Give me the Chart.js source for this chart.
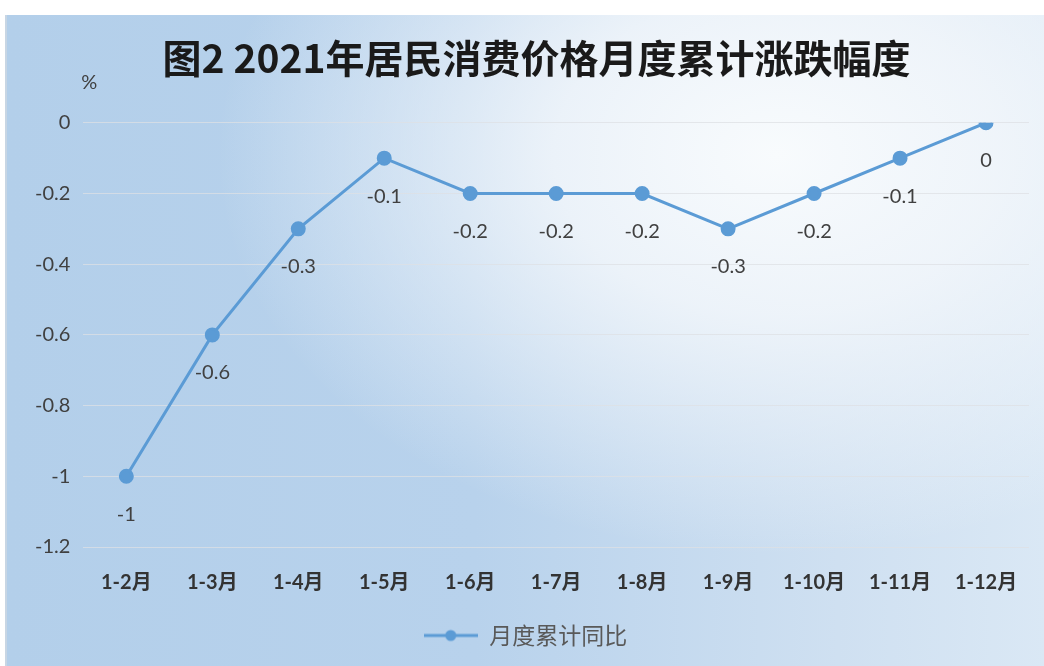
<!DOCTYPE html>
<html>
<head>
<meta charset="utf-8">
<script src="https://cdn.jsdelivr.net/npm/chart.js@4"></script>
<style>
  html, body { margin: 0; padding: 0; background: #fff; }
  #frame {
    position: absolute; left: 5px; top: 15px; width: 1039px; height: 651px;
    background:
      radial-gradient(ellipse 560px 400px at 770px 140px, rgba(248,251,253,1) 0%, rgba(243,247,251,0.85) 40%, rgba(243,247,251,0) 100%),
      linear-gradient(90deg, #b3cfea 0%, #b8d2ec 45%, #cfe0f1 80%, #dae8f5 100%);
    border-left: 2px solid #c8d6e4;
  }
  #chart { display: block; }
</style>
</head>
<body>
<div id="frame"><canvas id="chart" width="1039" height="651"></canvas></div>
<script>
var months = ['1-2月', '1-3月', '1-4月', '1-5月', '1-6月', '1-7月', '1-8月', '1-9月', '1-10月', '1-11月', '1-12月'];
var cumulative = [-1, -0.6, -0.3, -0.1, -0.2, -0.2, -0.2, -0.3, -0.2, -0.1, 0];
var seriesName = '月度累计同比';
var chartTitle = '图2 2021年居民消费价格月度累计涨跌幅度';
var unitLabel = '%';

var lineColor = '#5b9bd5';
var titleFont = 'bold 39px "Noto Sans CJK SC"';

// legend marker: line with a dot in the middle, like excel
var marker = document.createElement('canvas');
marker.width = 54; marker.height = 14;
var mctx = marker.getContext('2d');
mctx.strokeStyle = lineColor; mctx.lineWidth = 3;
mctx.beginPath(); mctx.moveTo(0, 7); mctx.lineTo(54, 7); mctx.stroke();
mctx.fillStyle = lineColor;
mctx.beginPath(); mctx.arc(27, 7, 5.5, 0, Math.PI * 2); mctx.fill();

var pointLabels = {
    id: 'pointLabels',
    afterDatasetsDraw(chart) {
        var ctx = chart.ctx;
        var meta = chart.getDatasetMeta(0);
        var title = chart.titleBlock;
        ctx.save();
        // title sits a little right of the canvas centre in the original
        ctx.font = titleFont;
        ctx.fillStyle = '#1a1a1a';
        ctx.textAlign = 'center';
        ctx.textBaseline = 'middle';
        ctx.fillText(chartTitle, chart.width / 2 + 10, title.top + 20 + 23);

        ctx.font = '20px Lato, "Noto Sans", sans-serif';
        ctx.fillStyle = '#404040';
        meta.data.forEach(function (pt, i) {
            ctx.fillText(String(cumulative[i]), pt.x, pt.y + 38);
        });
        // unit above the y axis
        ctx.fillText(unitLabel, chart.chartArea.left + 6, chart.chartArea.top - 40);
        ctx.restore();
    }
};

new Chart(document.getElementById('chart'), {
    type: 'line',
    data: {
        labels: months,
        datasets: [{
            label: seriesName,
            data: cumulative,
            borderColor: lineColor,
            backgroundColor: lineColor,
            borderWidth: 3,
            pointRadius: 6,
            pointHoverRadius: 6,
            pointBackgroundColor: lineColor,
            pointBorderColor: lineColor,
            tension: 0,
            fill: false
        }]
    },
    options: {
        responsive: false,
        animation: false,
        layout: { padding: { left: 15, right: 17, top: 0, bottom: 9 } },
        plugins: {
            title: {
                display: true,
                text: chartTitle,
                color: 'rgba(0,0,0,0)',
                font: { family: '"Noto Sans CJK SC"', size: 39, weight: 'bold' },
                padding: { top: 20, bottom: 41 }
            },
            legend: {
                position: 'bottom',
                labels: {
                    usePointStyle: true,
                    pointStyleWidth: 54,
                    generateLabels: function (chart) {
                        return [{
                            text: seriesName,
                            pointStyle: marker,
                            fontColor: '#595959',
                            strokeStyle: lineColor,
                            fillStyle: lineColor,
                            lineWidth: 0,
                            datasetIndex: 0
                        }];
                    },
                    color: '#595959',
                    font: { family: '"Noto Sans CJK SC"', size: 23 },
                    padding: 12
                }
            },
            tooltip: { enabled: false }
        },
        scales: {
            x: {
                offset: true,
                grid: { display: false },
                border: { display: false },
                afterFit: function (scale) { scale.height += 1; },
                ticks: {
                    color: '#333',
                    font: { family: 'Lato, "Noto Sans CJK SC"', size: 20, weight: 'bold' },
                    padding: 16,
                    maxRotation: 0
                }
            },
            y: {
                min: -1.2,
                max: 0,
                ticks: {
                    stepSize: 0.2,
                    color: '#404040',
                    font: { family: 'Lato, "Noto Sans", sans-serif', size: 20 },
                    padding: 13,
                    callback: function (v) { return String(Math.round(v * 10) / 10); }
                },
                grid: { color: 'rgba(222,224,228,0.75)', lineWidth: 1, drawTicks: false },
                border: { display: false }
            }
        }
    },
    plugins: [pointLabels]
});
</script>
</body>
</html>
